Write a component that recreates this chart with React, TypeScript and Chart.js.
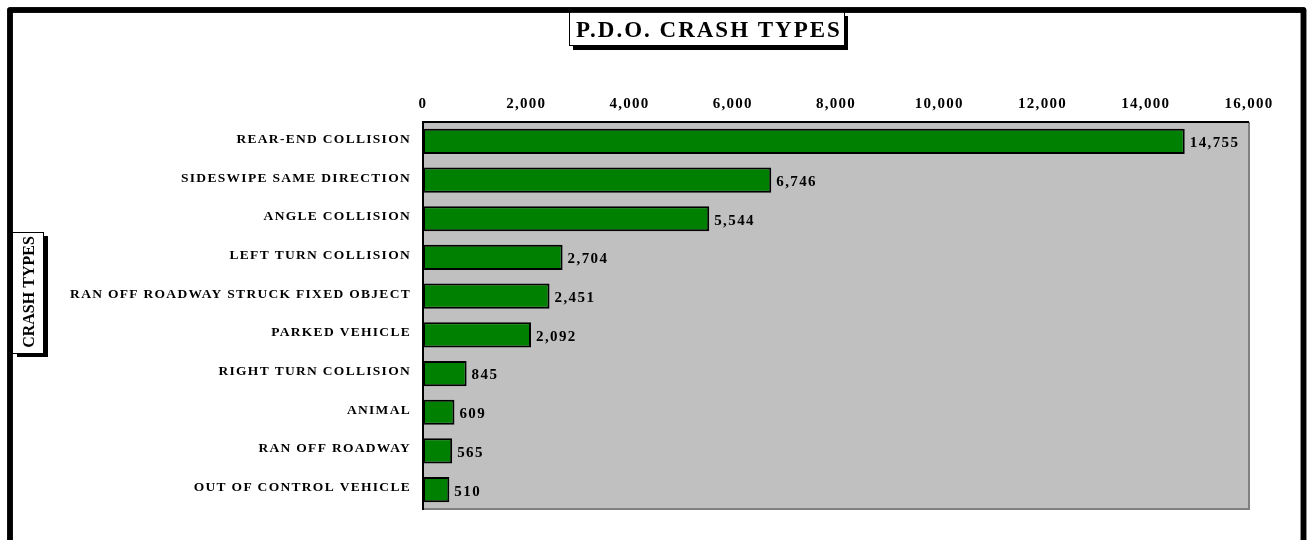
import React, { useEffect, useRef } from "react";
import { Chart, registerables } from "chart.js";

Chart.register(...registerables);

const categories = [
  "REAR-END COLLISION",
  "SIDESWIPE SAME DIRECTION",
  "ANGLE COLLISION",
  "LEFT TURN COLLISION",
  "RAN OFF ROADWAY STRUCK FIXED OBJECT",
  "PARKED VEHICLE",
  "RIGHT TURN COLLISION",
  "ANIMAL",
  "RAN OFF ROADWAY",
  "OUT OF CONTROL VEHICLE",
];
const values = [14755, 6746, 5544, 2704, 2451, 2092, 845, 609, 565, 510];
const xMin = 0;
const xMax = 16000;
const xStep = 2000;
const chartTitle = "P.D.O. CRASH TYPES";
const yAxisTitle = "CRASH TYPES";

const FONT = '"Liberation Serif", "Times New Roman", serif';
const fmt = (v: number) => v.toLocaleString("en-US");

const decorPlugin = {
  id: "decor",
  beforeDraw(chart: any) {
    const ctx = chart.ctx as CanvasRenderingContext2D;
    const a = chart.chartArea;
    ctx.save();
    ctx.strokeStyle = "#000";
    ctx.lineWidth = 5.5;
    ctx.lineJoin = "round";
    ctx.strokeRect(10, 10, 1293.5, 700);
    ctx.fillStyle = "#c0c0c0";
    ctx.fillRect(a.left, a.top, a.right - a.left, a.bottom - a.top);
    ctx.restore();
    (ctx as any).letterSpacing = "1.3px";
  },
  afterDatasetsDraw(chart: any) {
    const ctx = chart.ctx as CanvasRenderingContext2D;
    const a = chart.chartArea;
    ctx.save();
    ctx.strokeStyle = "#808080";
    ctx.lineWidth = 2;
    ctx.beginPath();
    ctx.moveTo(a.right, a.top);
    ctx.lineTo(a.right, a.bottom);
    ctx.lineTo(a.left, a.bottom);
    ctx.stroke();
    ctx.strokeStyle = "#000";
    ctx.lineWidth = 2;
    ctx.beginPath();
    ctx.moveTo(a.right, a.top);
    ctx.lineTo(a.left, a.top);
    ctx.lineTo(a.left, a.bottom + 1);
    ctx.stroke();
    const meta = chart.getDatasetMeta(0);
    ctx.fillStyle = "#000";
    ctx.font = `bold 15px ${FONT}`;
    (ctx as any).letterSpacing = "1.4px";
    ctx.textAlign = "left";
    ctx.textBaseline = "middle";
    meta.data.forEach((el: any, i: number) => {
      ctx.fillText(fmt(values[i]), el.x + 5, el.y + 2);
    });
    ctx.restore();
  },
  afterDraw(chart: any) {
    const ctx = chart.ctx as CanvasRenderingContext2D;
    ctx.save();
    ctx.fillStyle = "#000";
    ctx.fillRect(573, 16, 275, 34);
    ctx.fillStyle = "#fff";
    ctx.fillRect(569.5, 12, 275, 33.5);
    ctx.strokeStyle = "#000";
    ctx.lineWidth = 1;
    ctx.strokeRect(569.5, 12, 275, 33.5);
    ctx.fillStyle = "#000";
    ctx.font = `bold 23px ${FONT}`;
    (ctx as any).letterSpacing = "2px";
    ctx.textAlign = "center";
    ctx.textBaseline = "alphabetic";
    ctx.fillText(chartTitle, 709, 37);
    ctx.fillStyle = "#000";
    ctx.fillRect(17, 236, 31, 121);
    ctx.fillStyle = "#fff";
    ctx.fillRect(12.5, 232.5, 31, 121);
    ctx.strokeStyle = "#000";
    ctx.strokeRect(12.5, 232.5, 31, 121);
    ctx.fillStyle = "#000";
    ctx.font = `bold 16px ${FONT}`;
    (ctx as any).letterSpacing = "0px";
    ctx.translate(34, 292);
    ctx.rotate(-Math.PI / 2);
    ctx.textAlign = "center";
    ctx.fillText(yAxisTitle, 0, 0);
    ctx.restore();
    ctx.save();
    ctx.strokeStyle = "#000";
    ctx.lineWidth = 5.5;
    ctx.lineJoin = "round";
    ctx.strokeRect(10, 10, 1293.5, 700);
    ctx.restore();
  },
};

export default function App() {
  const ref = useRef<HTMLCanvasElement | null>(null);
  useEffect(() => {
    if (!ref.current) return;
    const chart = new Chart(ref.current, {
      type: "bar",
      data: {
        labels: categories,
        datasets: [
          {
            data: values,
            backgroundColor: "#008000",
            borderColor: "#000",
            borderWidth: 2,
            borderSkipped: false,
            barPercentage: 0.65,
            categoryPercentage: 1,
          },
        ],
      },
      options: {
        indexAxis: "y",
        animation: false,
        responsive: true,
        maintainAspectRatio: false,
        layout: { padding: { left: 12, right: 58, top: 50, bottom: 31 } },
        plugins: {
          legend: { display: false },
          tooltip: { enabled: false },
          title: { display: false },
        },
        scales: {
          x: {
            type: "linear",
            position: "top",
            min: xMin,
            max: xMax,
            grid: { display: false },
            border: { display: false },
            ticks: {
              stepSize: xStep,
              padding: 1,
              color: "#000",
              font: { family: FONT, size: 15, weight: "bold" },
              callback: (v: any) => fmt(Number(v)),
            },
            afterFit: (s: any) => {
              s.height = 72;
            },
          },
          y: {
            position: "left",
            grid: { display: false },
            border: { display: false },
            ticks: {
              padding: 4,
              labelOffset: -2,
              color: "#000",
              font: { family: FONT, size: 13.5, weight: "bold" },
            },
            afterFit: (s: any) => {
              s.width = 411;
            },
          },
        },
      },
      plugins: [decorPlugin],
    } as any);
    return () => chart.destroy();
  }, []);
  return (
    <div style={{ position: "absolute", left: 0, top: 0, width: 1307, height: 540, background: "#fff" }}>
      <canvas ref={ref} />
    </div>
  );
}
